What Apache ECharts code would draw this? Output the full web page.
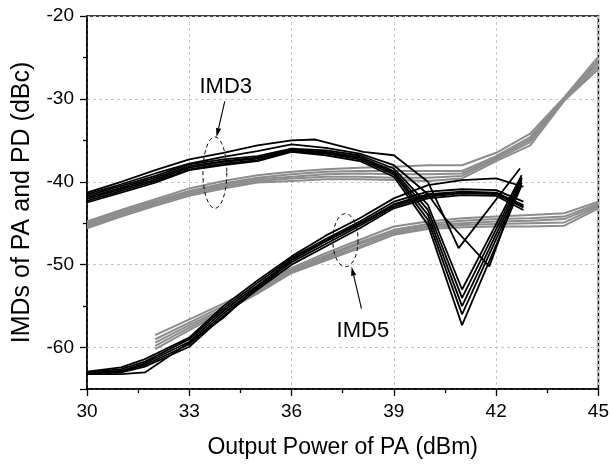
<!DOCTYPE html>
<html><head><meta charset="utf-8">
<script src="https://cdn.jsdelivr.net/npm/echarts@6/dist/echarts.min.js"></script>
<style>html,body{margin:0;padding:0;background:#fff}#c{width:612px;height:464px}</style>
</head><body><div id="c"></div>
<script>
const FONT = '"Liberation Sans", Arial, Helvetica, sans-serif';
const xTickLabels = [30, 33, 36, 39, 42, 45];
const yTickLabels = [-60, -50, -40, -30, -20];

// IMD3 of PA (black)
const imd3BlackTopX = [30,31,32,33,34,35,36,36.7,38.1,39,40,40.9,42.7];
const imd3BlackTop  = [-41.3,-40.0,-38.6,-37.3,-36.5,-35.6,-35.0,-34.9,-36.4,-36.8,-40.0,-48.0,-38.4];
const imd3BlackSecondX = [30,31,32,33,34,35,36,37,38,39,40,40.5,41.8,42.75];
const imd3BlackSecond  = [-41.5,-40.3,-39.0,-37.8,-37.0,-36.3,-35.5,-35.9,-36.6,-38.0,-41.5,-44.4,-50.2,-39.5];
const imd3BlackX = [30,31,32,33,34,35,36,37,38,39,40,41,42.75];
const imd3Black1 = [-41.7,-40.5,-39.3,-37.9,-37.3,-36.9,-36.0,-36.2,-36.8,-38.4,-42.8,-53.0,-39.2];
const imd3Black2 = [-41.9,-40.7,-39.5,-38.1,-37.5,-37.1,-36.1,-36.4,-37.0,-38.7,-43.4,-54.0,-39.5];
const imd3Black3 = [-42.1,-40.9,-39.7,-38.3,-37.6,-37.2,-36.2,-36.5,-37.1,-38.9,-44.0,-55.0,-39.8];
const imd3Black4 = [-42.3,-41.1,-39.9,-38.5,-37.8,-37.4,-36.3,-36.6,-37.3,-39.1,-44.6,-56.0,-40.1];
const imd3Black5 = [-42.5,-41.3,-40.1,-38.6,-38.0,-37.5,-36.4,-36.8,-37.5,-39.4,-45.2,-57.3,-40.4];

// IMD3 (gray)
const imd3GrayX = [30,31,32,33,34,35,36,37,38,39,40,41,42,43,44,45];
const imd3Gray1 = [-44.8,-43.4,-42.1,-40.8,-39.9,-39.2,-38.8,-38.5,-38.3,-38.2,-38.0,-38.0,-36.5,-34.2,-29.8,-24.9];
const imd3Gray2 = [-45.0,-43.6,-42.3,-41.1,-40.2,-39.5,-39.1,-38.8,-38.7,-38.7,-38.7,-38.7,-36.9,-34.6,-30.0,-25.3];
const imd3Gray3 = [-45.2,-43.8,-42.5,-41.3,-40.4,-39.7,-39.4,-39.1,-39.0,-39.1,-39.1,-39.0,-37.1,-34.9,-30.0,-25.6];
const imd3Gray4 = [-45.4,-44.0,-42.7,-41.5,-40.6,-39.9,-39.6,-39.4,-39.4,-39.5,-39.5,-39.3,-37.3,-35.2,-30.1,-26.0];
const imd3Gray5 = [-45.6,-44.2,-42.9,-41.7,-40.8,-40.1,-39.9,-39.7,-39.7,-39.8,-39.9,-39.6,-37.5,-35.6,-30.2,-26.4];

// IMD5 (gray)
const imd5GrayX = [32,33,34,35,36,37,38,39,40,41,42,43,44,45];
const imd5Gray1 = [-58.5,-56.6,-54.7,-52.6,-50.4,-48.6,-47.0,-45.4,-44.8,-44.4,-44.2,-44.0,-43.8,-42.4];
const imd5Gray2 = [-59.0,-57.0,-55.0,-52.9,-50.6,-48.9,-47.3,-45.8,-45.1,-44.7,-44.5,-44.4,-44.2,-42.6];
const imd5Gray3 = [-59.4,-57.3,-55.3,-53.1,-50.7,-49.1,-47.5,-46.0,-45.3,-45.0,-44.8,-44.7,-44.5,-42.8];
const imd5Gray4 = [-59.8,-57.6,-55.5,-53.3,-50.9,-49.3,-47.8,-46.2,-45.5,-45.2,-45.1,-45.0,-44.9,-43.0];
const imd5Gray5 = [-60.2,-57.9,-55.7,-53.5,-51.0,-49.5,-48.0,-46.4,-45.7,-45.5,-45.4,-45.4,-45.3,-43.2];

// IMD5 of PA (black)
const imd5BlackX = [30,31,31.7,33,34,35,36,37,38,39,40,41,42,42.8];
const imd5Black1 = [-62.9,-62.4,-61.4,-58.8,-55.0,-51.9,-49.0,-46.5,-44.4,-42.0,-40.4,-39.8,-39.6,-40.6];
const imd5Black2 = [-63.0,-62.6,-61.7,-59.0,-55.3,-52.2,-49.2,-46.9,-44.8,-42.4,-41.2,-40.9,-41.0,-42.4];
const imd5Black3 = [-63.1,-62.8,-61.9,-59.3,-55.6,-52.5,-49.5,-47.2,-45.1,-42.7,-41.5,-41.2,-41.3,-42.8];
const imd5Black4 = [-63.1,-62.9,-62.1,-59.6,-55.9,-52.8,-49.7,-47.5,-45.3,-43.0,-41.8,-41.4,-41.5,-43.1];
const imd5Black5 = [-63.2,-63.0,-62.3,-59.9,-56.2,-53.0,-50.0,-47.8,-45.6,-43.2,-42.0,-41.6,-41.7,-43.4];
const imd5Black6 = [-63.2,-63.2,-63.0,-59.4,-56.4,-52.6,-49.4,-47.1,-45.0,-42.8,-41.6,-41.3,-41.4,-43.0];

const BLACK = '#000000', GRAY = '#8c8c8c';
function mk(xs, ys, color, w) {
  return { type: 'line', data: xs.map((x, i) => [x, ys[i]]), symbol: 'none', silent: true,
    lineStyle: { color: color, width: w }, itemStyle: { color: color }, z: color === BLACK ? 3 : 2, animation: false };
}
const series = [
  mk(imd3GrayX, imd3Gray1, GRAY, 2), mk(imd3GrayX, imd3Gray2, GRAY, 2), mk(imd3GrayX, imd3Gray3, GRAY, 2),
  mk(imd3GrayX, imd3Gray4, GRAY, 2), mk(imd3GrayX, imd3Gray5, GRAY, 2),
  mk(imd5GrayX, imd5Gray1, GRAY, 2), mk(imd5GrayX, imd5Gray2, GRAY, 2), mk(imd5GrayX, imd5Gray3, GRAY, 2),
  mk(imd5GrayX, imd5Gray4, GRAY, 2), mk(imd5GrayX, imd5Gray5, GRAY, 2),
  mk(imd3BlackTopX, imd3BlackTop, BLACK, 1.8), mk(imd3BlackSecondX, imd3BlackSecond, BLACK, 1.8),
  mk(imd3BlackX, imd3Black1, BLACK, 1.8), mk(imd3BlackX, imd3Black2, BLACK, 1.8), mk(imd3BlackX, imd3Black3, BLACK, 1.8),
  mk(imd3BlackX, imd3Black4, BLACK, 1.8), mk(imd3BlackX, imd3Black5, BLACK, 1.8),
  mk(imd5BlackX, imd5Black1, BLACK, 1.8), mk(imd5BlackX, imd5Black2, BLACK, 1.8), mk(imd5BlackX, imd5Black3, BLACK, 1.8),
  mk(imd5BlackX, imd5Black4, BLACK, 1.8), mk(imd5BlackX, imd5Black5, BLACK, 1.8), mk(imd5BlackX, imd5Black6, BLACK, 1.8)
];

const chart = echarts.init(document.getElementById('c'), null, { renderer: 'canvas' });
const axisCommon = {
  axisLine: { show: true, onZero: false, lineStyle: { color: '#000', width: 1.5 } },
  axisTick: { show: true, inside: false, length: 7, lineStyle: { color: '#000', width: 1.3 } },
  minorTick: { show: true, splitNumber: 2, length: 4, lineStyle: { color: '#000', width: 1.3 } },
  splitLine: { show: true, lineStyle: { color: '#c8c8c8', type: [3, 3], width: 1 } }
};
chart.setOption({
  backgroundColor: '#fff',
  animation: false,
  grid: { left: 87, right: 13, top: 16, bottom: 73, show: true, borderColor: '#000', borderWidth: 1.5, containLabel: false },
  xAxis: Object.assign({}, axisCommon, {
    type: 'value', min: xTickLabels[0], max: xTickLabels[xTickLabels.length - 1], interval: 3,
    name: 'Output Power of PA (dBm)', nameLocation: 'middle', nameGap: 47,
    nameTextStyle: { fontFamily: FONT, fontSize: 23, color: '#000' },
    axisLabel: { fontFamily: FONT, fontSize: 19, color: '#000', margin: 13,
      formatter: v => xTickLabels.includes(v) ? String(v) : '' }
  }),
  yAxis: Object.assign({}, axisCommon, {
    type: 'value', min: -65, max: yTickLabels[yTickLabels.length - 1], splitNumber: 5,
    name: 'IMDs of PA and PD (dBc)', nameLocation: 'middle', nameGap: 52, nameRotate: 90,
    nameTextStyle: { fontFamily: FONT, fontSize: 25, color: '#000' },
    axisLabel: { fontFamily: FONT, fontSize: 19, color: '#000', margin: 13,
      formatter: v => yTickLabels.includes(v) ? String(v) : '' }
  }),
  series: series
});

// annotations positioned in data coordinates
function px(x, y) { return chart.convertToPixel({ gridIndex: 0 }, [x, y]); }
function ellipsePts(cx, cy, rxData, ryData) {
  const c = px(cx, cy), e = px(cx + rxData, cy + ryData);
  const rx = Math.abs(e[0] - c[0]), ry = Math.abs(e[1] - c[1]);
  const pts = [];
  for (let i = 0; i <= 72; i++) { const a = i / 72 * Math.PI * 2; pts.push([c[0] + rx * Math.cos(a), c[1] + ry * Math.sin(a)]); }
  return pts;
}
function arrow(x1, y1, x2, y2) {
  const a = px(x1, y1), b = px(x2, y2);
  const dx = b[0] - a[0], dy = b[1] - a[1], L = Math.hypot(dx, dy), ux = dx / L, uy = dy / L;
  const hl = 9, hw = 2.6;
  const base = [b[0] - ux * hl, b[1] - uy * hl];
  return [
    { type: 'line', shape: { x1: a[0], y1: a[1], x2: base[0], y2: base[1] }, style: { stroke: '#000', lineWidth: 1.1 }, z: 10 },
    { type: 'polygon', shape: { points: [b, [base[0] - uy * hw, base[1] + ux * hw], [base[0] + uy * hw, base[1] - ux * hw]] },
      style: { fill: '#000' }, z: 10 }
  ];
}
function label(text, x, y) {
  const p = px(x, y);
  return { type: 'text', x: p[0], y: p[1], style: { text: text, font: '22px ' + FONT, fill: '#000', align: 'center', verticalAlign: 'middle' }, z: 10 };
}
const graphics = [
  { type: 'polyline', shape: { points: ellipsePts(33.75, -38.9, 0.35, 4.3) }, style: { stroke: '#000', lineWidth: 1, lineDash: [4, 3], fill: null }, z: 10 },
  { type: 'polyline', shape: { points: ellipsePts(37.58, -47.05, 0.37, 3.2) }, style: { stroke: '#000', lineWidth: 1, lineDash: [4, 3], fill: null }, z: 10 },
  ...arrow(34.04, -30.3, 33.8, -34.6),
  ...arrow(38.05, -55.3, 37.76, -50.25),
  label('IMD3', 34.07, -28.6),
  label('IMD5', 38.09, -58.0)
];
chart.setOption({ graphic: graphics });
</script>
</body></html>
